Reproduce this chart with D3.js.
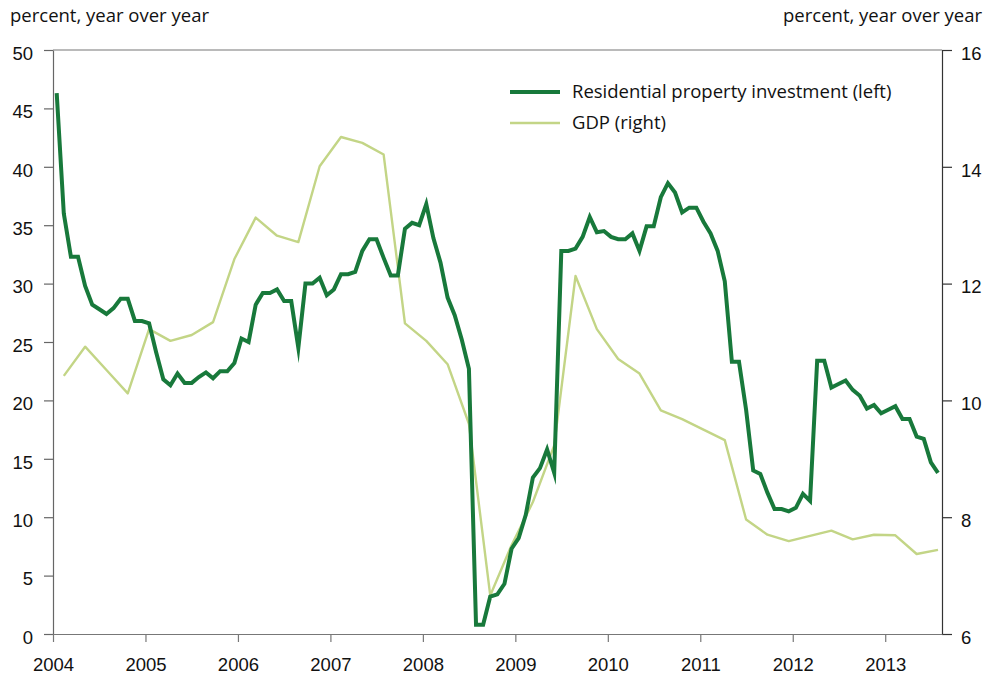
<!DOCTYPE html>
<html>
<head>
<meta charset="utf-8">
<script src="https://cdn.jsdelivr.net/npm/d3@7"></script>
<style>
  body { margin: 0; background: #fff; }
  svg { display: block; font-family: "Open Sans", sans-serif; }
  .tick text { font-size: 18.5px; fill: #111; }
</style>
</head>
<body>
<svg width="988" height="679"></svg>
<script>
// residential property investment, percent y/y (left axis)
const rpiValues = [
  46.3, 36.0, 32.3, 32.3, 29.8, 28.2, 27.8, 27.4, 27.9, 28.7, 28.7, 26.8,
  26.8, 26.6, 24.1, 21.8, 21.3, 22.3, 21.5, 21.5, 22.0, 22.4, 21.9, 22.5,
  22.5, 23.2, 25.3, 25.0, 28.2, 29.2, 29.2, 29.5, 28.5, 28.5, 24.5, 30.0,
  30.0, 30.5, 29.0, 29.5, 30.8, 30.8, 31.0, 32.8, 33.8, 33.8, 32.2, 30.7,
  30.7, 34.7, 35.2, 35.0, 36.8, 33.9, 31.8, 28.8, 27.3, 25.2, 22.7, 0.8,
  0.8, 3.2, 3.4, 4.3, 7.3, 8.2, 10.2, 13.4, 14.2, 15.8, 13.8, 32.8,
  32.8, 33.0, 34.0, 35.7, 34.4, 34.5, 34.0, 33.8, 33.8, 34.3, 32.8, 34.9,
  34.9, 37.4, 38.6, 37.8, 36.1, 36.5, 36.5, 35.3, 34.3, 32.8, 30.2, 23.3,
  23.3, 19.2, 14.0, 13.7, 12.1, 10.7, 10.7, 10.5, 10.8, 12.0, 11.4, 23.4,
  23.4, 21.1, 21.4, 21.7, 20.9, 20.4, 19.3, 19.6, 18.9, 19.2, 19.5, 18.4,
  18.4, 16.9, 16.7, 14.7, 13.8
];

// GDP, percent y/y (right axis), one value every third observation
const gdpValues = [
  10.42, 10.92, 10.52, 10.12, 11.22, 11.02, 11.12, 11.34, 12.42, 13.13,
  12.82, 12.71, 14.01, 14.51, 14.41, 14.21, 11.32, 11.02, 10.62, 9.60,
  6.66, 7.52, 8.26, 9.23, 12.13, 11.22, 10.71, 10.46, 9.83, 9.68,
  9.50, 9.32, 7.96, 7.70, 7.59, 7.68, 7.77, 7.62, 7.70, 7.69,
  7.37, 7.44
];

// observation dates in fractional years
const firstObs = 2004.04;
const obsStep = 0.07686;
const rpiDates = rpiValues.map((v, i) => firstObs + i * obsStep);
const gdpDates = gdpValues.map((v, k) => rpiDates[1 + 3 * k]);

const xTicks = [2004, 2005, 2006, 2007, 2008, 2009, 2010, 2011, 2012, 2013];
const leftTicks = [0, 5, 10, 15, 20, 25, 30, 35, 40, 45, 50];
const rightTicks = [6, 8, 10, 12, 14, 16];

const axisTitle = "percent, year over year";
const seriesNames = ["Residential property investment (left)", "GDP (right)"];
const colors = ["#18793b", "#c3d586"];

const svg = d3.select('svg');
const width = +svg.attr('width');
const height = +svg.attr('height');
const margin = { top: 50, right: 46, bottom: 45, left: 53 };
const innerWidth = width - margin.left - margin.right;
const innerHeight = height - margin.top - margin.bottom;

const xScale = d3.scaleLinear()
  .domain([2004, 2013.614])
  .range([0, innerWidth]);

const yLeft = d3.scaleLinear().domain([0, 50]).range([innerHeight, 0]);
const yRight = d3.scaleLinear().domain([6, 16]).range([innerHeight, 0]);

const g = svg.append('g')
  .attr('transform', `translate(${margin.left},${margin.top})`);

// top border
g.append('line')
  .attr('x1', 0).attr('x2', innerWidth)
  .attr('y1', 0).attr('y2', 0)
  .attr('stroke', '#777').attr('stroke-width', 1.2);

const styleAxis = (sel, color) => {
  sel.selectAll('.domain').attr('stroke', color).attr('stroke-width', 1.2);
  sel.selectAll('.tick line').attr('stroke', color).attr('stroke-width', 1.2);
};

g.append('g')
  .call(d3.axisLeft(yLeft).tickValues(leftTicks).tickSize(9).tickPadding(11).tickSizeOuter(0))
  .call(sel => styleAxis(sel, '#666'))
  .selectAll('.tick text').attr('dy', '0.5em');

g.append('g')
  .attr('transform', `translate(${innerWidth},0)`)
  .call(d3.axisRight(yRight).tickValues(rightTicks).tickSize(10).tickPadding(9).tickSizeOuter(0))
  .call(sel => styleAxis(sel, '#333'))
  .selectAll('.tick text').attr('dy', '0.5em');

g.append('g')
  .attr('transform', `translate(0,${innerHeight})`)
  .call(d3.axisBottom(xScale).tickValues(xTicks).tickFormat(d3.format('d')).tickSize(8).tickPadding(16).tickSizeOuter(0))
  .call(sel => styleAxis(sel, '#777'));

// GDP line (light, drawn first)
const gdpLine = d3.line()
  .x((d, i) => xScale(gdpDates[i]))
  .y(d => yRight(d));

g.append('path')
  .datum(gdpValues)
  .attr('fill', 'none')
  .attr('stroke', colors[1])
  .attr('stroke-width', 2.4)
  .attr('stroke-linejoin', 'round')
  .attr('d', gdpLine);

const rpiLine = d3.line()
  .x((d, i) => xScale(rpiDates[i]))
  .y(d => yLeft(d));

g.append('path')
  .datum(rpiValues)
  .attr('fill', 'none')
  .attr('stroke', colors[0])
  .attr('stroke-width', 4)
  .attr('stroke-linejoin', 'miter')
  .attr('stroke-miterlimit', 10)
  .attr('d', rpiLine);

// axis titles
svg.append('text')
  .attr('x', 10).attr('y', 22)
  .style('font-size', '18.5px').attr('fill', '#111')
  .text(axisTitle);

svg.append('text')
  .attr('x', 982).attr('y', 22)
  .style('font-size', '18.5px').attr('fill', '#111')
  .style('text-anchor', 'end')
  .text(axisTitle);

// legend
const legend = svg.append('g').attr('transform', 'translate(510,92)');
seriesNames.forEach((name, i) => {
  const row = legend.append('g').attr('transform', `translate(0,${i * 31})`);
  row.append('line')
    .attr('x1', 0).attr('x2', 50)
    .attr('stroke', colors[i])
    .attr('stroke-width', i === 0 ? 4 : 2.4);
  row.append('text')
    .attr('x', 62).attr('dy', '0.35em')
    .style('font-size', '18.5px').attr('fill', '#111')
    .text(name);
});
</script>
</body>
</html>
